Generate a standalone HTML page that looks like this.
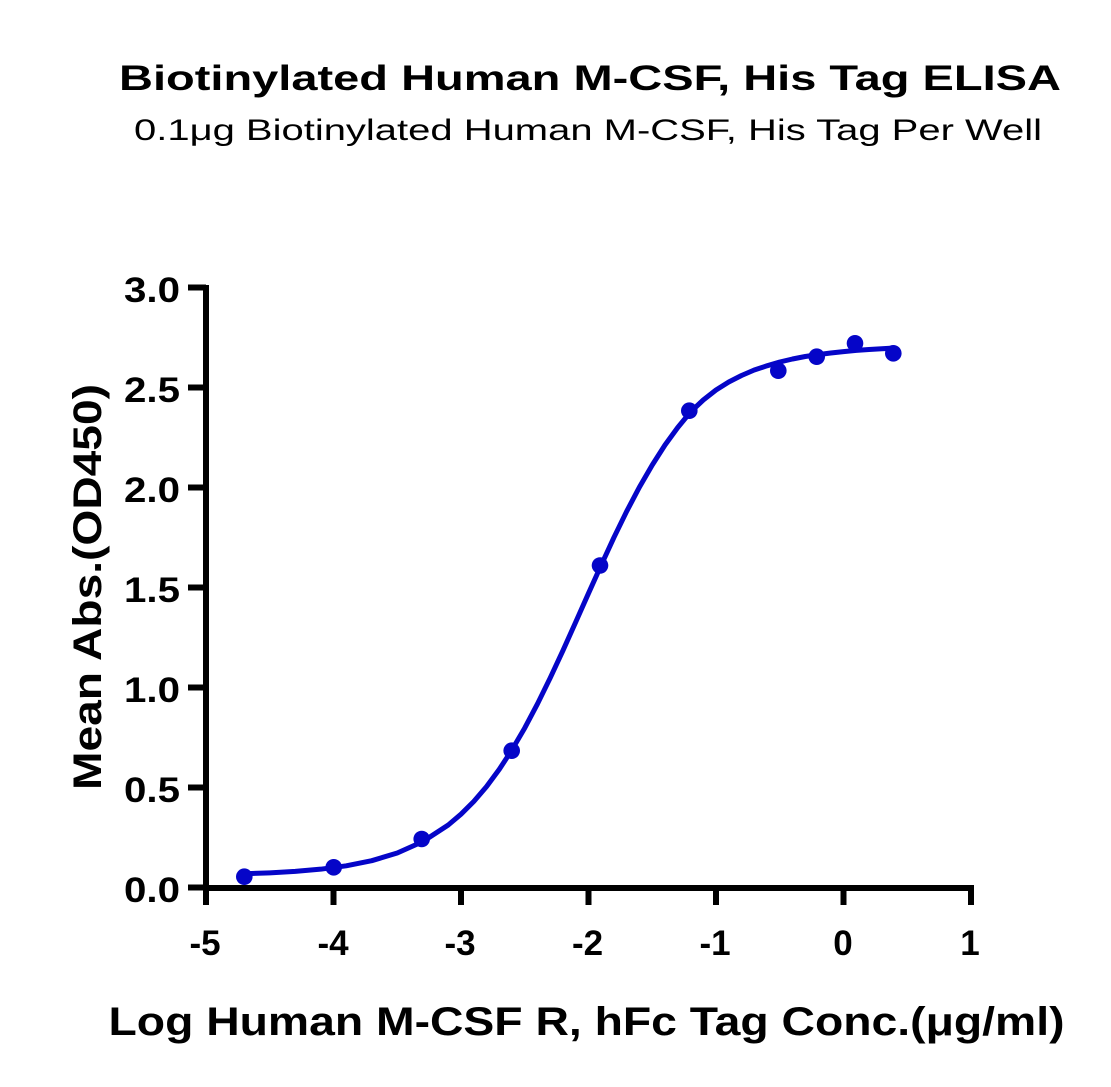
<!DOCTYPE html>
<html><head><meta charset="utf-8"><style>
html,body{margin:0;padding:0;background:#fff;}
svg{display:block;}
</style></head><body>
<svg width="1111" height="1087" viewBox="0 0 1111 1087" xmlns="http://www.w3.org/2000/svg">
<rect width="1111" height="1087" fill="#fff"/>
<g font-family="'Liberation Sans', sans-serif" fill="#000">
<text x="590" y="90" font-size="35" font-weight="bold" text-anchor="middle" textLength="942" lengthAdjust="spacingAndGlyphs">Biotinylated Human M-CSF, His Tag ELISA</text>
<text x="588" y="140" font-size="30" text-anchor="middle" textLength="908" lengthAdjust="spacingAndGlyphs">0.1μg Biotinylated Human M-CSF, His Tag Per Well</text>
<text x="586.5" y="1035" font-size="40" font-weight="bold" text-anchor="middle" textLength="956" lengthAdjust="spacingAndGlyphs">Log Human M-CSF R, hFc Tag Conc.(μg/ml)</text>
<text transform="translate(101,587) rotate(-90)" x="0" y="0" font-size="40" font-weight="bold" text-anchor="middle" textLength="406" lengthAdjust="spacingAndGlyphs">Mean Abs.(OD450)</text>
<g font-size="35" font-weight="bold" text-anchor="end">
<text x="180" y="302" textLength="56" lengthAdjust="spacingAndGlyphs">3.0</text>
<text x="180" y="402" textLength="56" lengthAdjust="spacingAndGlyphs">2.5</text>
<text x="180" y="502" textLength="56" lengthAdjust="spacingAndGlyphs">2.0</text>
<text x="180" y="602" textLength="56" lengthAdjust="spacingAndGlyphs">1.5</text>
<text x="180" y="702" textLength="56" lengthAdjust="spacingAndGlyphs">1.0</text>
<text x="180" y="802" textLength="56" lengthAdjust="spacingAndGlyphs">0.5</text>
<text x="180" y="902" textLength="56" lengthAdjust="spacingAndGlyphs">0.0</text>
</g>
<g font-size="35" font-weight="bold" text-anchor="middle">
<text x="205" y="955">-5</text>
<text x="333" y="955">-4</text>
<text x="460" y="955">-3</text>
<text x="587.5" y="955">-2</text>
<text x="715" y="955">-1</text>
<text x="843" y="955">0</text>
<text x="970" y="955">1</text>
</g>
</g>
<g stroke="#000" stroke-width="6" fill="none">
<line x1="206" y1="285" x2="206" y2="891"/>
<line x1="203" y1="888" x2="974" y2="888"/>
<line x1="188" y1="287.5" x2="206" y2="287.5"/>
<line x1="188" y1="387.5" x2="206" y2="387.5"/>
<line x1="188" y1="487.5" x2="206" y2="487.5"/>
<line x1="188" y1="587.5" x2="206" y2="587.5"/>
<line x1="188" y1="687.5" x2="206" y2="687.5"/>
<line x1="188" y1="787.5" x2="206" y2="787.5"/>
<line x1="188" y1="887.5" x2="206" y2="887.5"/>
<line x1="206" y1="888" x2="206" y2="905"/>
<line x1="333.5" y1="888" x2="333.5" y2="905"/>
<line x1="461" y1="888" x2="461" y2="905"/>
<line x1="588.5" y1="888" x2="588.5" y2="905"/>
<line x1="716" y1="888" x2="716" y2="905"/>
<line x1="843.5" y1="888" x2="843.5" y2="905"/>
<line x1="971" y1="888" x2="971" y2="905"/>
</g>
<polyline fill="none" stroke="#0505c8" stroke-width="5" stroke-linejoin="round" stroke-linecap="round" points="244.25,873.76 269.75,872.82 295.25,871.38 320.75,869.17 346.25,865.8 371.75,860.7 397.25,853.0 422.75,841.6 448.25,825.0 461,814.2 473.75,801.5 486.5,786.6 499.25,769.4 512,749.8 524.75,727.96 537.5,703.8 550.25,677.8 563,650.4 575.75,622.0 588.5,593.3 601.25,565.0 614,537.3 626.75,511.2 639.5,487 652.25,465 665,445 677.75,427.5 690.5,412 703.25,400 716,390 728.75,382 741.5,375.5 754.25,370 767,365.8 779.75,362 792.5,359 805.25,356.5 818,354.6 830.75,353 843.5,351.6 856.25,350.4 869,349.5 881.75,348.7 894.5,348.1"/>
<g fill="#0505c8">
<circle cx="244.3" cy="876.7" r="8.3"/>
<circle cx="333.7" cy="867.3" r="8.3"/>
<circle cx="421.7" cy="839" r="8.3"/>
<circle cx="511.7" cy="750.7" r="8.3"/>
<circle cx="600" cy="565.5" r="8.3"/>
<circle cx="689.3" cy="410.7" r="8.3"/>
<circle cx="778.3" cy="370.7" r="8.3"/>
<circle cx="816.7" cy="356.7" r="8.3"/>
<circle cx="855" cy="343.3" r="8.3"/>
<circle cx="893.3" cy="353.3" r="8.3"/>
</g>
</svg>
</body></html>
